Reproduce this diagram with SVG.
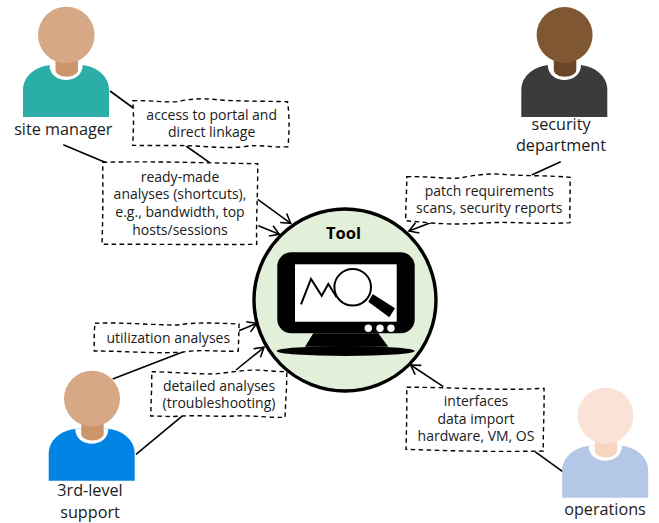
<svg xmlns="http://www.w3.org/2000/svg" width="659" height="523" viewBox="0 0 659 523">
<style>
text{font-family:"Open Sans","Noto Sans","Liberation Sans",sans-serif;fill:#1a1a1a;text-anchor:middle}
.n{font-size:16.2px}
.t{font-size:14px}
.b{fill:#fff;stroke:#000;stroke-width:1.4;stroke-dasharray:4.5 3.5}
.c{fill:none;stroke:#000;stroke-width:1.6}
.a{marker-end:url(#ah)}
</style>
<defs>
<marker id="ah" markerUnits="userSpaceOnUse" markerWidth="14" markerHeight="14" refX="11" refY="7" orient="auto"><path d="M2 1.5L11 7L2 12.5" fill="none" stroke="#000" stroke-width="1.6"/></marker>
<path id="body" d="M23 117V90C23 76 35 67 50 65H82.500C97 67 109 76 109 90V117Z"/>
<path id="collar" d="M49.500 65C49.500 75 58 80 66 80C74 80 82.700 75 82.700 65Z" fill="#fff"/>
<path id="neck" d="M55.500 55H78V70C78 74 72 76.700 66.500 76.700C61 76.700 55.500 74 55.500 70Z"/>
</defs>
<g id="connectors">
<path class="c" d="M110 91L133.300 108"/>
<path class="c" d="M63.300 144.700L105 162.300"/>
<path class="c" d="M186 146L209.300 162.300"/>
<path class="c a" d="M257.700 199.300L290.700 223.300"/>
<path class="c a" d="M258.300 225.700L279.300 234.300"/>
<path class="c" d="M112.700 379L183.300 351.700"/>
<path class="c a" d="M239 330.700L256.700 323.300"/>
<path class="c" d="M136 454.300L182.700 415.700"/>
<path class="c a" d="M236 370L264 347.300"/>
<path class="c" d="M560.700 161.700L531.700 175"/>
<path class="c a" d="M433.300 221.700L409 231"/>
<path class="c" d="M535 451.700L562.700 471.700"/>
<path class="c a" d="M443.300 386.700L410.700 365"/>
</g>
<g id="tool">
<circle cx="345" cy="300" r="91" fill="#e2efd9" stroke="#000" stroke-width="3.400"/>
<text x="343.500" y="239" font-size="16.500" font-weight="700" style="fill:#000">Tool</text>
<rect x="277.300" y="252.300" width="137.400" height="81" rx="14" fill="#000"/>
<rect x="295" y="264.300" width="101.700" height="57.400" fill="#fff"/>
<path d="M301 304.300L311 279L321.700 295.700L328.300 284L336.700 297.300" fill="none" stroke="#000" stroke-width="2"/>
<path d="M372.700 294L395 308.300L389.300 317.300L368.300 301.700Z" fill="#000"/>
<circle cx="352.700" cy="287.300" r="18.300" fill="#fff" stroke="#000" stroke-width="2"/>
<path d="M313.300 333.300H378.300L388.300 346.700H305Z" fill="#000"/>
<ellipse cx="345.700" cy="351" rx="69" ry="5" fill="#000"/>
<circle cx="368.300" cy="328.300" r="3.700" fill="#fff"/>
<circle cx="380" cy="328.300" r="3.700" fill="#fff"/>
<circle cx="391" cy="328.300" r="3.700" fill="#fff"/>
</g>
<g id="site-manager">
<use href="#body" fill="#2bada8"/><use href="#collar"/><use href="#neck" fill="#cc9469"/>
<circle cx="66.300" cy="35" r="28.300" fill="#d7a886"/>
<text class="n" x="63.300" y="135">site manager</text>
</g>
<g id="security-department">
<g transform="translate(498.300 0)"><use href="#body" fill="#3b3b3b"/><use href="#collar"/><use href="#neck" fill="#6a4526"/>
<circle cx="66.300" cy="35" r="28" fill="#7f5732"/></g>
<text class="n" x="561" y="130">security</text>
<text class="n" x="561" y="151">department</text>
</g>
<g id="third-level-support">
<g transform="translate(25.700 363.700)"><use href="#body" fill="#0284e4"/><use href="#collar"/><use href="#neck" fill="#cc9469"/>
<circle cx="66.300" cy="35" r="28" fill="#d7a886"/></g>
<text class="n" x="90" y="496.300">3rd-level</text>
<text class="n" x="90" y="517.500">support</text>
</g>
<g id="operations">
<g transform="translate(539.200 380.800)"><use href="#body" fill="#b4c7e7"/><use href="#collar"/><use href="#neck" fill="#f8d5bf"/>
<circle cx="66.300" cy="35" r="28" fill="#fae3d6"/></g>
<text class="n" x="605" y="515">operations</text>
</g>
<g id="access-note">
<path class="b" d="M132.700 100.700C150 100 165 103 178 101.500C190 99 200 98 215 99.500C235 101.500 260 101 287.500 101.700C289.500 115 289.500 130 288 146.700C270 148 262 144 245 146.500C225 149 205 146 187 145.700C170 145 150 146 132.700 145.300C133.500 130 134 115 132.700 100.700Z"/>
<text class="t" x="211.700" y="120">access to portal and</text>
<text class="t" x="211.700" y="137.300">direct linkage</text>
</g>
<g id="readymade-note">
<path class="b" d="M102.700 162.300C150 161 210 163 257.700 163.700C258 190 256 220 256.700 244.300C205 245 150 244 102 244.300C103 215 103 190 102.700 162.300Z"/>
<text class="t" x="180" y="182">ready-made</text>
<text class="t" x="180" y="199.400">analyses (shortcuts),</text>
<text class="t" x="180" y="216.800">e.g., bandwidth, top</text>
<text class="t" x="180" y="234.500">hosts/sessions</text>
</g>
<g id="utilization-note">
<path class="b" d="M95 323.300C120 322 150 325 178 325C195 322 215 323 239 324C239 333 238.500 342 238.300 351C220 352 200 349 183 352C160 354 125 351 94.300 351C94 342 94 333 95 323.300Z"/>
<text class="t" x="168.300" y="342.700">utilization analyses</text>
</g>
<g id="detailed-note">
<path class="b" d="M151.700 371.700C170 372 195 374 215 374C232 372 250 369 265 370.500C272 371 280 371.700 286.700 371.700C287 387 285.500 402 285 417.300C270 418 250 415 235 416C218 417 200 415 182 416C170 417 160 416 150.700 416C151 402 152 387 151.700 371.700Z"/>
<text class="t" x="219" y="390.700">detailed analyses</text>
<text class="t" x="219" y="408.300">(troubleshooting)</text>
</g>
<g id="patch-note">
<path class="b" d="M406.700 176.700C425 176 445 179 460 178C475 175 490 173 505 174.500C525 176 550 175.500 570 177.300C570.500 192 569.500 208 570 222.700C550 224 530 223 510 222.500C490 222 475 224 455 224C440 224 420 222 405.700 220.700C405.500 205 407 190 406.700 176.700Z"/>
<text class="t" x="489.300" y="195.700">patch requirements</text>
<text class="t" x="489.300" y="213.300">scans, security reports</text>
</g>
<g id="interfaces-note">
<path class="b" d="M406.700 387.300C450 387 500 391 544 388.300C544.500 410 543 430 543.300 451C500 452 450 451 406 449.300C406.500 430 407 408 406.700 387.300Z"/>
<text class="t" x="476" y="406">interfaces</text>
<text class="t" x="476" y="423.500">data import</text>
<text class="t" x="476" y="441">hardware, VM, OS</text>
</g>
</svg>
